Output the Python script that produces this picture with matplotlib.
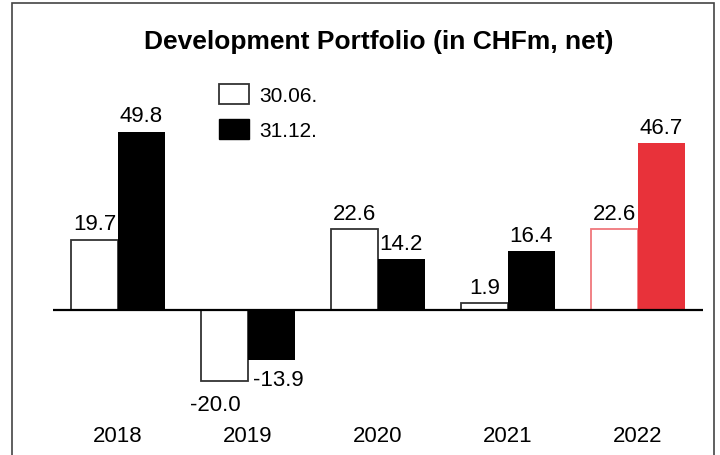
import numpy as np
import matplotlib.pyplot as plt
from matplotlib.patches import Patch, Rectangle

# data
years = ["2018", "2019", "2020", "2021", "2022"]
h1_values = [19.7, -20.0, 22.6, 1.9, 22.6]    # 30.06.
fy_values = [49.8, -13.9, 14.2, 16.4, 46.7]   # 31.12.
series_names = ["30.06.", "31.12."]

# style
plt.rcParams['font.family'] = ['Liberation Sans', 'DejaVu Sans']
red = "#e8323a"
red_edge = "#f0777c"
fs = 16

fig = plt.figure(figsize=(7.2, 4.56), dpi=100)
W, H = 720, 456
# axes placed in pixel terms: x from 53 to 703, y from 100 to 400
ax = fig.add_axes([53 / W, (H - 400) / H, 650 / W, 300 / H])
ax.set_xlim(-0.5, 4.5)
ax.set_ylim(-(400 - 311) / 3.574, (311 - 100) / 3.574)

x = np.arange(len(years))
bw = 0.358

# open bars (30.06.) sit left of the group centre, filled bars right
open_edges = ["#333333"] * 4 + [red_edge]
fill_cols = ["black"] * 4 + [red]
ax.bar(x - bw / 2, h1_values, bw, color="white", edgecolor=open_edges, linewidth=1.3, zorder=2)
ax.bar(x + bw / 2, fy_values, bw, color=fill_cols, edgecolor=fill_cols, linewidth=0, zorder=2)

ax.axhline(0, color="black", linewidth=1.6, zorder=3)

# value labels, with the small nudges seen in the reference
h1_dx = [0, -7, 0, 0, 0]
fy_dx = [0, 5, 0, 0, 0]
for xi, v, dx in zip(x - bw / 2, h1_values, h1_dx):
    dy = 4 if v >= 0 else -9
    ax.annotate(f"{v:.1f}", (xi, v), xytext=(dx, dy), textcoords="offset points",
                ha="center", va="bottom" if v >= 0 else "top", fontsize=fs)
for xi, v, dx in zip(x + bw / 2, fy_values, fy_dx):
    dy = 4 if v >= 0 else -7
    ax.annotate(f"{v:.1f}", (xi, v), xytext=(dx, dy), textcoords="offset points",
                ha="center", va="bottom" if v >= 0 else "top", fontsize=fs)

ax.set_xticks(x)
ax.set_xticklabels(years, fontsize=fs)
ax.tick_params(axis="x", length=0, pad=19)
ax.set_yticks([])
for s in ax.spines.values():
    s.set_visible(False)

handles = [Patch(facecolor="white", edgecolor="#333333", linewidth=1.3),
           Patch(facecolor="black", edgecolor="black")]
fig.legend(handles, series_names, loc="upper left", bbox_to_anchor=(219 / W, (H - 85) / H),
           frameon=False, fontsize=15, handlelength=1.45, handleheight=1.1,
           handletextpad=0.5, labelspacing=0.65, borderpad=0, borderaxespad=0)

fig.text(379 / W, (H - 42) / H, "Development Portfolio (in CHFm, net)",
         ha="center", va="center", fontsize=19, fontweight="bold")

# outer frame
fig.patches.append(Rectangle((12 / W, -0.05), 702 / W, (H - 4) / H + 0.05,
                             transform=fig.transFigure, fill=False,
                             edgecolor="#444444", linewidth=1.2))

fig.savefig("out.png", dpi=100)
